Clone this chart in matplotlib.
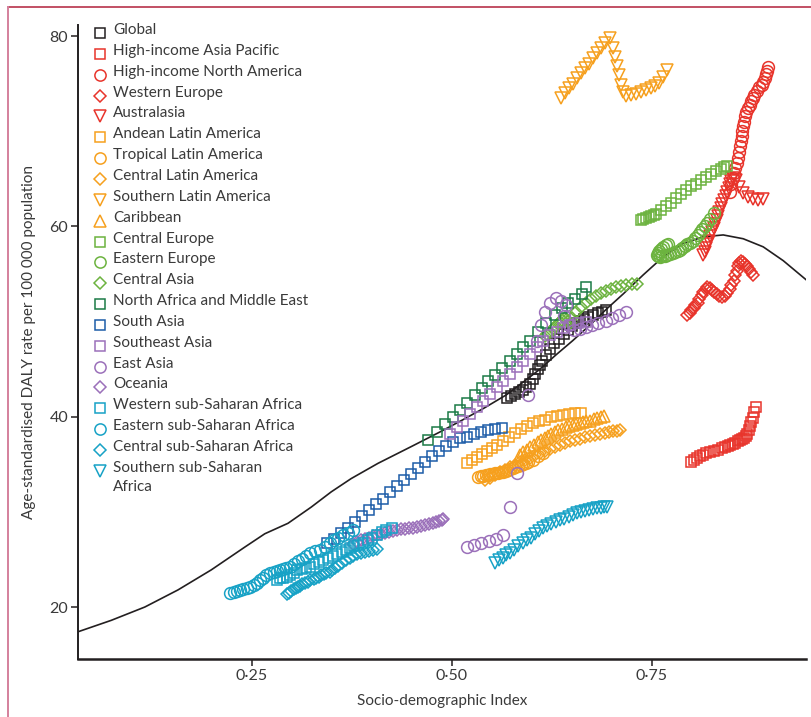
import matplotlib
matplotlib.use("Agg")
import matplotlib.pyplot as plt
from matplotlib.lines import Line2D

plt.rcParams['font.family'] = ['Lato', 'DejaVu Sans']

## Expected curve (SDI vs rate)
curve_x = [.0325, .074, .116, .1575, .199, .241, .266, .295, .324, .349, .374, .4075, .45, .485, .514, .54, .568, .59, .61, .63, .651, .672, .693, .714, .739, .764, .789, .814, .839, .864, .889, .914, .9425]
curve_y = [17.4, 18.6, 20.0, 21.8, 23.9, 26.3, 27.7, 28.8, 30.5, 32.1, 33.5, 35.1, 36.9, 38.4, 39.7, 40.9, 42.3, 43.7, 45.0, 46.5, 48.0, 49.6, 51.3, 52.9, 54.9, 56.8, 58.2, 58.9, 59.1, 58.7, 57.85, 56.4, 54.4]

## Regions (SDI, age-standardised rate)
global_x = [.569, .574, .579, .584, .589, .593, .597, .601, .604, .607, .610, .613, .617, .622, .628, .634, .640, .645, .650, .655, .660, .665, .670, .676, .682, .688, .693]
global_y = [42.0, 42.2, 42.4, 42.6, 42.8, 43.1, 43.4, 44.0, 44.5, 45.0, 45.4, 45.9, 46.5, 47.1, 47.7, 48.2, 48.7, 49.1, 49.5, 49.8, 50.1, 50.3, 50.5, 50.7, 50.9, 51.0, 51.2]

hiap_x = [.799, .803, .806, .810, .814, .818, .823, .828, .833, .837, .841, .845, .848, .851, .854, .857, .860, .863, .865, .867, .869, .871, .873, .874, .876, .878, .880]
hiap_y = [35.2, 35.4, 35.7, 35.9, 36.0, 36.2, 36.3, 36.4, 36.5, 36.7, 36.8, 36.9, 37.0, 37.1, 37.2, 37.4, 37.5, 37.7, 37.8, 38.0, 38.2, 38.6, 39.0, 39.4, 39.9, 40.5, 41.0]

hina_x = [.847, .849, .851, .853, .854, .856, .858, .859, .860, .861, .862, .863, .864, .865, .866, .868, .870, .872, .874, .876, .878, .881, .884, .887, .889, .891, .893, .894, .895]
hina_y = [63.6, 64.4, 65.1, 65.6, 66.1, 66.7, 67.2, 67.8, 68.4, 69.0, 69.5, 70.0, 70.5, 71.0, 71.6, 72.0, 72.4, 72.8, 73.2, 73.5, 73.8, 74.2, 74.6, 74.9, 75.2, 75.6, 76.0, 76.3, 76.7]

weu_x = [.794, .797, .799, .802, .804, .807, .809, .812, .814, .817, .819, .822, .825, .828, .831, .834, .8375, .841, .844, .847, .849, .852, .854, .856, .8575, .859, .861, .864, .866, .869, .871, .874, .876]
weu_y = [50.7, 50.9, 51.2, 51.4, 51.7, 52.0, 52.4, 52.8, 53.1, 53.4, 53.6, 53.5, 53.3, 53.1, 52.9, 52.7, 52.6, 52.7, 53.0, 53.4, 53.8, 54.3, 54.9, 55.3, 55.8, 56.1, 56.4, 56.3, 56.0, 55.8, 55.5, 55.2, 54.9]

aus_x = [.814, .816, .8175, .819, .821, .823, .825, .827, .829, .831, .8325, .834, .836, .838, .840, .842, .844, .846, .8475, .849, .851, .855, .859, .864, .870, .876, .8825, .889]
aus_y = [57.0, 57.3, 57.7, 58.1, 58.5, 59.0, 59.4, 59.8, 60.2, 60.7, 61.1, 61.5, 61.9, 62.4, 62.8, 63.2, 63.6, 64.0, 64.4, 64.8, 65.1, 64.9, 64.1, 63.5, 63.1, 62.9, 62.8, 62.9]

andean_x = [.519, .525, .531, .5375, .544, .550, .556, .564, .571, .579, .586, .594, .601, .609, .616, .624, .631, .639, .646, .654, .661]
andean_y = [35.1, 35.4, 35.8, 36.1, 36.4, 36.7, 37.0, 37.4, 37.9, 38.3, 38.7, 39.0, 39.3, 39.5, 39.7, 40.0, 40.1, 40.2, 40.3, 40.4, 40.4]

tropical_x = [.5325, .536, .539, .542, .545, .548, .551, .554, .5575, .561, .564, .567, .570, .573, .576, .579, .5825, .586, .589, .592, .595, .601, .6075, .614]
tropical_y = [33.7, 33.75, 33.8, 33.85, 33.9, 33.95, 34.0, 34.05, 34.1, 34.15, 34.2, 34.3, 34.4, 34.5, 34.6, 34.7, 34.8, 34.9, 35.0, 35.1, 35.2, 35.5, 35.9, 36.2]

centlat_x = [.541, .547, .554, .560, .566, .572, .579, .585, .591, .597, .604, .610, .616, .622, .629, .635, .641, .647, .654, .660, .666, .672, .679, .685, .691, .696, .701, .706, .710]
centlat_y = [33.3, 33.6, 33.9, 34.2, 34.4, 34.7, 34.9, 35.2, 35.4, 35.7, 36.0, 36.2, 36.4, 36.6, 36.8, 37.0, 37.2, 37.4, 37.5, 37.7, 37.9, 38.0, 38.1, 38.2, 38.3, 38.4, 38.5, 38.55, 38.6]

southlat_x = [.636, .641, .646, .651, .656, .661, .666, .671, .676, .681, .686, .691, .6975, .701, .704, .706, .709, .711, .714, .7175, .724, .730, .736, .7425, .749, .754, .759, .764, .769]
southlat_y = [73.5, 74.0, 74.5, 75.0, 75.6, 76.1, 76.6, 77.1, 77.7, 78.2, 78.7, 79.3, 79.8, 78.7, 77.8, 76.8, 75.9, 74.9, 74.1, 73.7, 73.8, 73.9, 74.1, 74.3, 74.5, 74.8, 75.1, 75.7, 76.4]

carib_x = [.585, .589, .594, .598, .6025, .607, .611, .616, .620, .624, .629, .633, .6375, .642, .646, .651, .655, .660, .664, .668, .6725, .677, .681, .686, .690]
carib_y = [36.0, 36.3, 36.5, 36.8, 37.0, 37.3, 37.5, 37.8, 38.0, 38.2, 38.4, 38.6, 38.7, 38.9, 39.0, 39.1, 39.2, 39.3, 39.4, 39.5, 39.6, 39.75, 39.9, 40.0, 40.1]

centeu_x = [.736, .739, .7425, .746, .749, .752, .755, .761, .7675, .774, .780, .786, .7925, .799, .805, .811, .8175, .824, .830, .836, .840, .844]
centeu_y = [60.7, 60.8, 60.9, 61.0, 61.1, 61.2, 61.3, 61.7, 62.1, 62.5, 63.0, 63.4, 63.8, 64.2, 64.5, 64.9, 65.2, 65.5, 65.8, 66.0, 66.2, 66.3]

easteu_x = [.770, .767, .764, .761, .759, .757, .756, .758, .760, .763, .766, .769, .7725, .776, .779, .782, .785, .788, .791, .794, .7975, .801, .804, .807, .810, .813, .816, .819, .8225, .8275]
easteu_y = [58.2, 58.0, 57.8, 57.6, 57.4, 57.2, 57.0, 56.9, 56.8, 56.85, 56.9, 57.0, 57.1, 57.2, 57.3, 57.4, 57.5, 57.7, 57.9, 58.1, 58.3, 58.5, 58.8, 59.1, 59.4, 59.7, 60.0, 60.4, 60.8, 61.4]

centasia_x = [.616, .619, .6225, .626, .629, .632, .635, .638, .641, .643, .645, .6475, .650, .655, .661, .6675, .674, .680, .686, .6925, .699, .705, .711, .7175, .725, .731]
centasia_y = [48.5, 48.7, 48.9, 49.2, 49.4, 49.7, 49.9, 50.2, 50.4, 50.2, 50.1, 49.8, 50.4, 51.0, 51.5, 51.9, 52.4, 52.7, 53.0, 53.2, 53.4, 53.6, 53.7, 53.8, 53.9, 53.9]

name_x = [.4704, .481, .491, .5016, .510, .5184, .529, .537, .5454, .554, .562, .5725, .581, .589, .5975, .608, .618, .629, .637, .645, .654, .662, .668]
name_y = [37.5, 38.4, 39.2, 40.0, 40.7, 41.4, 42.3, 43.0, 43.7, 44.4, 45.1, 45.9, 46.6, 47.3, 48.0, 48.9, 49.8, 50.7, 51.4, 51.9, 52.4, 52.9, 53.6]

sasia_x = [.344, .3525, .361, .370, .379, .3875, .396, .405, .414, .4225, .431, .440, .449, .4575, .466, .475, .484, .4925, .501, .510, .519, .5275, .536, .545, .554, .5625]
sasia_y = [26.7, 27.2, 27.8, 28.3, 28.9, 29.6, 30.2, 30.8, 31.4, 32.1, 32.7, 33.3, 34.0, 34.6, 35.2, 35.9, 36.4, 36.9, 37.3, 37.8, 37.9, 38.2, 38.4, 38.6, 38.7, 38.8]

seasia_x = [.4975, .506, .514, .5225, .531, .539, .5475, .556, .564, .5725, .581, .589, .5975, .606, .614, .6225, .631, .639, .6475, .6575, .6675]
seasia_y = [38.2, 38.9, 39.6, 40.3, 41.0, 41.7, 42.4, 43.1, 43.8, 44.5, 45.2, 45.9, 46.6, 47.3, 48.0, 48.6, 48.9, 49.3, 49.6, 49.8, 49.9]

easia_x = [.519, .5275, .536, .546, .555, .564, .5725, .581, .595, .606, .611, .616, .6225, .630, .636, .6425, .640, .646, .653, .660, .667, .675, .683, .692, .700, .709, .718]
easia_y = [26.3, 26.5, 26.7, 26.9, 27.1, 27.6, 30.5, 34.1, 42.3, 48.0, 49.6, 51.0, 52.0, 52.5, 52.2, 51.7, 50.6, 49.6, 49.1, 49.2, 49.4, 49.6, 49.8, 50.1, 50.4, 50.7, 51.0]

oceania_x = [.376, .381, .386, .391, .396, .401, .406, .411, .416, .421, .426, .431, .436, .441, .446, .451, .456, .461, .466, .471, .476, .480, .484, .487, .489]
oceania_y = [26.6, 26.8, 27.0, 27.2, 27.3, 27.5, 27.6, 27.7, 27.8, 27.9, 28.0, 28.1, 28.2, 28.2, 28.3, 28.3, 28.4, 28.5, 28.6, 28.7, 28.8, 28.9, 29.0, 29.1, 29.2]

wssa_x = [.281, .285, .289, .2935, .298, .302, .306, .312, .317, .3225, .328, .334, .339, .345, .351, .356, .362, .367, .3725, .378, .383, .389, .395, .400, .406, .412, .418, .4245]
wssa_y = [22.8, 23.0, 23.1, 23.2, 23.4, 23.6, 23.9, 24.0, 24.1, 24.2, 24.5, 24.7, 24.9, 25.2, 25.4, 25.6, 25.8, 26.0, 26.2, 26.4, 26.5, 26.7, 27.0, 27.3, 27.6, 27.9, 28.1, 28.3]

essa_x = [.2225, .227, .231, .235, .239, .2435, .2475, .252, .256, .260, .264, .268, .2725, .277, .281, .285, .289, .293, .2975, .302, .307, .312, .317, .3225, .329, .335, .341, .3475, .353, .358, .364, .370, .376]
essa_y = [21.5, 21.6, 21.7, 21.8, 21.9, 22.0, 22.1, 22.3, 22.5, 22.8, 23.1, 23.4, 23.6, 23.7, 23.8, 23.9, 24.0, 24.1, 24.2, 24.5, 24.8, 25.1, 25.4, 25.7, 25.9, 26.0, 26.3, 26.7, 27.0, 27.3, 27.6, 27.8, 28.1]

cssa_x = [.2935, .296, .299, .302, .305, .308, .310, .313, .316, .320, .323, .327, .330, .3335, .3367, .340, .343, .347, .350, .354, .358, .363, .368, .372, .3767, .381, .386, .391, .396, .401, .406]
cssa_y = [21.4, 21.5, 21.7, 21.9, 22.0, 22.1, 22.2, 22.4, 22.5, 22.6, 22.8, 22.9, 23.0, 23.2, 23.4, 23.5, 23.6, 23.7, 23.9, 24.1, 24.3, 24.6, 24.9, 25.2, 25.4, 25.6, 25.7, 25.8, 25.9, 26.0, 26.1]

sssa_x = [.554, .559, .564, .568, .5725, .578, .583, .589, .594, .599, .604, .609, .614, .619, .624, .630, .635, .640, .646, .651, .656, .661, .666, .671, .676, .681, .686, .690, .694]
sssa_y = [24.6, 24.9, 25.2, 25.5, 25.7, 26.0, 26.4, 26.7, 27.0, 27.3, 27.7, 28.0, 28.3, 28.5, 28.7, 28.9, 29.1, 29.3, 29.5, 29.7, 29.9, 30.0, 30.1, 30.2, 30.3, 30.4, 30.45, 30.5, 30.5]

labels = ['Global', 'High-income Asia Pacific', 'High-income North America', 'Western Europe', 'Australasia',
          'Andean Latin America', 'Tropical Latin America', 'Central Latin America', 'Southern Latin America', 'Caribbean',
          'Central Europe', 'Eastern Europe', 'Central Asia', 'North Africa and Middle East', 'South Asia',
          'Southeast Asia', 'East Asia', 'Oceania', 'Western sub-Saharan Africa', 'Eastern sub-Saharan Africa',
          'Central sub-Saharan Africa', 'Southern sub-Saharan\nAfrica']
markers = ['s', 's', 'o', 'D', 'v', 's', 'o', 'D', 'v', '^', 's', 'o', 'D', 's', 's', 's', 'o', 'D', 's', 'o', 'D', 'v']
BLACK, RED, ORANGE, GREEN, DGREEN, BLUE, PURPLE, CYAN = '#231f20', '#e8342b', '#f6a01e', '#6cb33f', '#1b7a46', '#1c5ca8', '#9b70ba', '#17a2c6'
colors = [BLACK, RED, RED, RED, RED, ORANGE, ORANGE, ORANGE, ORANGE, ORANGE, GREEN, GREEN, GREEN, DGREEN, BLUE,
          PURPLE, PURPLE, PURPLE, CYAN, CYAN, CYAN, CYAN]
series = [(global_x, global_y), (hiap_x, hiap_y), (hina_x, hina_y), (weu_x, weu_y), (aus_x, aus_y),
          (andean_x, andean_y), (tropical_x, tropical_y), (centlat_x, centlat_y), (southlat_x, southlat_y), (carib_x, carib_y),
          (centeu_x, centeu_y), (easteu_x, easteu_y), (centasia_x, centasia_y), (name_x, name_y), (sasia_x, sasia_y),
          (seasia_x, seasia_y), (easia_x, easia_y), (oceania_x, oceania_y), (wssa_x, wssa_y), (essa_x, essa_y),
          (cssa_x, cssa_y), (sssa_x, sssa_y)]
msize = {'s': 7.0, 'o': 8.5, 'D': 6.3, 'v': 8.5, '^': 8.5}

W, H = 812, 717
fig = plt.figure(figsize=(W/100, H/100), dpi=100)
ax = fig.add_axes([78/W, 58/H, 728/W, 634/H])

ax.plot(curve_x, curve_y, color=BLACK, lw=1.2, zorder=1)
for (sx, sy), m, c in zip(series, markers, colors):
    ax.plot(sx, sy, ls='none', marker=m, ms=msize[m], mfc='none', mec=c, mew=1.1, zorder=2)

ax.set_xlim(.0325, .9425)
ax.set_ylim(14.54, 81.16)
ax.set_xticks([.25, .5, .75])
ax.set_xticklabels(['0\u00b725', '0\u00b750', '0\u00b775'])
ax.set_yticks([20, 40, 60, 80])
for s in ['top', 'right']:
    ax.spines[s].set_visible(False)
ax.spines['left'].set_linewidth(1.4)
ax.spines['bottom'].set_linewidth(1.8)
ax.spines['left'].set_color('#231f20')
ax.spines['bottom'].set_color('#231f20')
ax.tick_params(axis='both', length=5, width=1.1, color='#231f20', labelsize=11.5, labelcolor='#3a3a3a', pad=2)
ax.set_xlabel('Socio-demographic Index', fontsize=11, color='#3a3a3a', labelpad=8)
ax.set_ylabel('Age-standardised DALY rate per 100 000 population', fontsize=11, color='#3a3a3a', labelpad=10)

## hand-made legend, top left
for i, (lab, m, c) in enumerate(zip(labels, markers, colors)):
    ypx = 33 + i*20.85
    fig.add_artist(Line2D([100/W], [1 - ypx/H], marker=m, ms=msize[m]*0.95, mfc='none', mec=c, mew=1.1,
                          transform=fig.transFigure))
    fig.text(113/W, 1 - (ypx - 10)/H, lab, fontsize=11, color='#3a3a3a', va='top', ha='left', linespacing=1.45)

## page frame
fig.add_artist(Line2D([8/W, 1], [1 - 7/H, 1 - 7/H], color='#b8324a', lw=1.2, transform=fig.transFigure))
fig.add_artist(Line2D([8/W, 8/W], [0, 1 - 7/H], color='#d4809c', lw=1.4, transform=fig.transFigure))

fig.savefig('out.png', dpi=100)
